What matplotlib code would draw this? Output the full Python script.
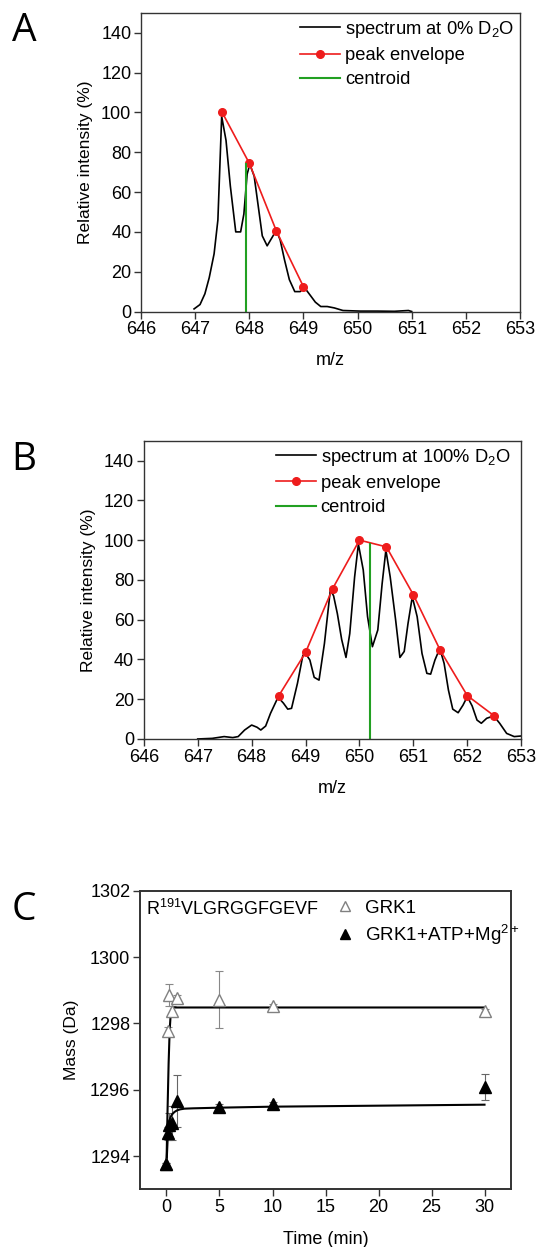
import numpy as np
import matplotlib
matplotlib.use('Agg')
import matplotlib.pyplot as plt
from matplotlib.lines import Line2D

plt.rcParams['font.family'] = ['Liberation Sans', 'DejaVu Sans']
plt.rcParams['mathtext.fontset'] = 'custom'
plt.rcParams['mathtext.rm'] = 'Liberation Sans'
plt.rcParams['mathtext.it'] = 'Liberation Sans:italic'

# panel A: spectrum at 0% D2O
mz_a = [646.98, 647.09, 647.18, 647.26, 647.35, 647.42, 647.49, 647.57, 647.65, 647.75,
        647.84, 647.90, 647.96, 648.01, 648.09, 648.17, 648.24, 648.33, 648.46, 648.51,
        648.57, 648.65, 648.74, 648.84, 648.94, 649.02, 649.13, 649.22, 649.32, 649.44,
        649.57, 649.73, 650.05, 650.36, 650.68, 650.94, 651.00]
int_a = [1.3, 3.5, 8.9, 17, 29, 46, 98, 86, 63, 40,
         40, 49, 69, 74, 68, 52, 38, 33, 39, 40,
         36, 26, 16, 10, 10, 12, 8, 4.7, 2.5, 2.5,
         1.8, 0.5, 0.2, 0.2, 0.1, 0.5, 0]
env_mz_a = [647.5, 648.0, 648.5, 649.0]
env_int_a = [100, 74.5, 40.5, 12.5]
centroid_a = 647.93
centroid_h_a = 74

# panel B: spectrum at 100% D2O
mz_b = [647.00, 647.27, 647.49, 647.65, 647.75, 647.87, 648.00, 648.10, 648.17, 648.26,
        648.35, 648.49, 648.59, 648.67, 648.74, 648.85, 648.95, 649.00, 649.08, 649.16,
        649.25, 649.35, 649.46, 649.52, 649.59, 649.67, 649.75, 649.82, 649.91, 649.98,
        650.07, 650.15, 650.24, 650.34, 650.42, 650.49, 650.57, 650.67, 650.75, 650.83,
        650.90, 650.98, 651.07, 651.16, 651.25, 651.32, 651.40, 651.49, 651.57, 651.65,
        651.73, 651.83, 651.92, 652.00, 652.09, 652.18, 652.26, 652.36, 652.49, 652.60,
        652.73, 652.87, 653.00]
int_b = [0, 0.3, 1.2, 0.7, 1.2, 4.5, 7, 5.9, 4.5, 6.5,
         12.9, 21, 18, 15, 15.4, 28, 42, 43, 39.7, 31,
         29.6, 48, 75, 72, 63, 50, 41, 53, 81.5, 98,
         85, 61.5, 46.4, 54.8, 78, 95, 81.5, 60, 41, 44,
         58, 71.5, 61.5, 43, 33, 32.6, 39.7, 45.5, 38, 24.6,
         15, 13.2, 17, 21.3, 16.6, 9.5, 7.9, 10.4, 11.6, 7.9,
         2.8, 1.2, 1.5]
env_mz_b = [648.5, 649.0, 649.5, 650.0, 650.5, 651.0, 651.5, 652.0, 652.5]
env_int_b = [21.6, 43.5, 75.5, 100, 96.6, 72.5, 44.5, 21.8, 11.6]
centroid_b = 650.19
centroid_h_b = 98

# panel C: mass vs time
t_pts = [0, 0.1, 0.25, 0.5, 1, 5, 10, 30]
grk1_mass = [1293.75, 1297.76, 1298.87, 1298.37, 1298.77, 1298.72, 1298.52, 1298.38]
grk1_err = [0.05, 0.12, 0.33, 0.15, 0.08, 0.87, 0.08, 0.05]
atp_mass = [1293.75, 1294.69, 1294.95, 1295.0, 1295.65, 1295.49, 1295.56, 1296.08]
atp_err = [0.05, 0.2, 0.35, 0.5, 0.78, 0.08, 0.08, 0.4]
fit_t_grk1 = [0, 0.1, 0.2, 0.3, 0.4, 0.5, 0.7, 1, 30]
fit_m_grk1 = [1293.75, 1295.4, 1296.8, 1297.8, 1298.3, 1298.45, 1298.48, 1298.48, 1298.48]
fit_t_atp = [0, 0.1, 0.2, 0.35, 0.5, 0.75, 1.0, 1.3, 1.7, 2.5, 5, 10, 30]
fit_m_atp = [1293.75, 1294.45, 1294.95, 1295.15, 1295.25, 1295.33, 1295.38, 1295.41,
             1295.43, 1295.44, 1295.46, 1295.49, 1295.55]

RED = '#ee1c1c'
GREEN = '#22a022'
SPINE = '#333333'
FS = 13

fig = plt.figure(figsize=(5.37, 12.47), dpi=100)


def style_axes(ax, lw=1.0):
    for s in ax.spines.values():
        s.set_color(SPINE)
        s.set_linewidth(lw)
    ax.tick_params(direction='out', length=5, width=1, color=SPINE,
                   labelsize=FS, top=False, right=False, pad=2)


def spectrum_panel(rect, mz, inten, env_mz, env_int, cen, cen_h, label, anchor):
    ax = fig.add_axes(rect)
    ax.plot(mz, inten, color='black', lw=1.2, label=label)
    ax.plot(env_mz, env_int, color=RED, lw=1.2, marker='o', ms=5.5,
            label='peak envelope')
    ax.plot([cen, cen], [0, cen_h], color=GREEN, lw=1.5, label='centroid')
    ax.set_xlim(646, 653)
    ax.set_ylim(0, 150)
    ax.set_xticks(np.arange(646, 654, 1))
    ax.set_yticks(np.arange(0, 141, 20))
    style_axes(ax)
    ax.set_xlabel('m/z', fontsize=FS, labelpad=10)
    ax.set_ylabel('Relative intensity (%)', fontsize=12.5, labelpad=6)
    ax.legend(loc='upper left', bbox_to_anchor=anchor, frameon=False,
              fontsize=13.2, handlelength=2.2, handletextpad=0.25,
              labelspacing=0.4, borderaxespad=0)
    return ax


axA = spectrum_panel([0.2626, 0.7502, 0.7057, 0.2394], mz_a, int_a, env_mz_a, env_int_a,
                     centroid_a, centroid_h_a, r'spectrum at 0% D$_\mathregular{2}$O', (0.40, 1.005))
axB = spectrum_panel([0.2678, 0.4074, 0.7028, 0.2392], mz_b, int_b, env_mz_b, env_int_b,
                     centroid_b, centroid_h_b, r'spectrum at 100% D$_\mathregular{2}$O', (0.33, 1.005))

axC = fig.add_axes([0.2607, 0.0463, 0.6909, 0.2394])
axC.errorbar(t_pts, grk1_mass, yerr=grk1_err, fmt='none', ecolor='#888888',
             elinewidth=0.8, capsize=3, capthick=0.8, zorder=1)
axC.errorbar(t_pts, atp_mass, yerr=atp_err, fmt='none', ecolor='#666666',
             elinewidth=0.8, capsize=3, capthick=0.8, zorder=1)
axC.plot(fit_t_grk1, fit_m_grk1, color='black', lw=1.5, zorder=2)
axC.plot(fit_t_atp, fit_m_atp, color='black', lw=1.5, zorder=2)
axC.plot(t_pts, grk1_mass, ls='none', marker='^', ms=8.5, mfc='white',
         mec='#808080', mew=1.0, zorder=3)
axC.plot(t_pts, atp_mass, ls='none', marker='^', ms=8.5, mfc='black',
         mec='black', zorder=4)
axC.set_xlim(-2.5, 32.5)
axC.set_ylim(1293, 1302)
axC.set_xticks(np.arange(0, 31, 5))
axC.set_yticks(np.arange(1294, 1303, 2))
style_axes(axC, lw=1.4)
axC.set_xlabel('Time (min)', fontsize=FS, labelpad=11)
axC.set_ylabel('Mass (Da)', fontsize=12.5, labelpad=8)
axC.text(0.015, 0.94, r'R$^\mathregular{191}$VLGRGGFGEVF', transform=axC.transAxes,
         fontsize=FS, ha='left', va='center')
handles = [Line2D([], [], ls='none', marker='^', ms=6.5, mfc='white', mec='#808080'),
           Line2D([], [], ls='none', marker='^', ms=6.5, mfc='black', mec='black')]
axC.legend(handles, ['GRK1', r'GRK1+ATP+Mg$^\mathregular{2+}$'], loc='upper left',
           bbox_to_anchor=(0.50, 0.995), frameon=False, fontsize=13.5,
           handlelength=1.3, handletextpad=0.4, labelspacing=0.3, borderaxespad=0)

for letter, y in [('A', 0.975), ('B', 0.631), ('C', 0.27)]:
    fig.text(0.045, y, letter, fontsize=28, family=['Open Sans', 'DejaVu Sans'],
             ha='center', va='center')

fig.savefig('out.png', dpi=100)
